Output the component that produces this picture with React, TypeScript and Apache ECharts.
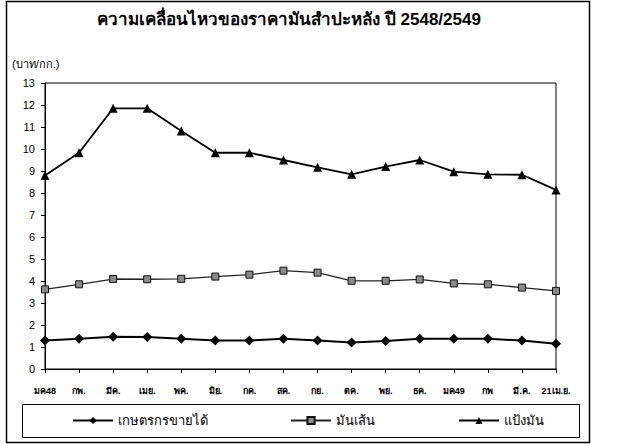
import React, { useEffect, useRef } from "react";
import * as echarts from "echarts";

const categories = ["มค48", "กพ.", "มีค.", "เมย.", "พค.", "มิย.", "กค.", "สค.", "กย.", "ตค.", "พย.", "ธค.", "มค49", "กพ", "มี.ค.", "21เม.ย."];
const farmPrice = [1.29, 1.37, 1.47, 1.45, 1.38, 1.29, 1.29, 1.38, 1.29, 1.2, 1.27, 1.38, 1.38, 1.38, 1.29, 1.15];
const chipsPrice = [3.62, 3.85, 4.09, 4.08, 4.1, 4.2, 4.29, 4.47, 4.38, 4.01, 4.01, 4.07, 3.89, 3.85, 3.7, 3.55];
const starchPrice = [8.8, 9.83, 11.85, 11.85, 10.82, 9.83, 9.83, 9.5, 9.17, 8.85, 9.2, 9.5, 8.97, 8.85, 8.83, 8.14];
const seriesNames = ["เกษตรกรขายได้", "มันเส้น", "แป้งมัน"];
const titleText = "ความเคลื่อนไหวของราคามันสำปะหลัง ปี 2548/2549";
const unitText = "(บาท/กก.)";

export default function App() {
  const ref = useRef<HTMLDivElement>(null);
  useEffect(() => {
    if (!ref.current) return;
    const chart = echarts.init(ref.current, null, { renderer: "svg" });
    const font = "'Liberation Sans', Arial, sans-serif";
    const legendText = { fontSize: 13, color: "#000", fontFamily: font };
    const legendBase = { top: 414, padding: 0, itemWidth: 40, itemHeight: 9, itemGap: 6, textStyle: legendText };
    chart.setOption({
      animation: false,
      backgroundColor: "#fff",
      textStyle: { fontFamily: font },
      title: {
        text: titleText,
        left: 289,
        top: 11,
        padding: 0,
        textAlign: "center",
        textStyle: { fontSize: 17, fontWeight: "bold", color: "#000", fontFamily: font },
      },
      grid: {
        left: 45,
        right: 68,
        top: 83,
        bottom: 75,
        show: true,
        borderColor: "#000",
        borderWidth: 1,
        backgroundColor: "transparent",
      },
      legend: [
        { ...legendBase, data: [seriesNames[0]], left: 72 },
        { ...legendBase, data: [seriesNames[1]], left: 290 },
        { ...legendBase, data: [seriesNames[2]], left: 458 },
      ],
      graphic: [
        { type: "rect", shape: { x: 6.5, y: 1.5, width: 583, height: 441 }, style: { fill: "none", stroke: "#000", lineWidth: 1.5 }, silent: true, z: -1 },
        { type: "rect", shape: { x: 22.5, y: 404.5, width: 557, height: 33 }, style: { fill: "none", stroke: "#000", lineWidth: 1 }, silent: true, z: -1 },
        { type: "text", left: 12, top: 58, style: { text: unitText, fontSize: 11, fill: "#000", fontFamily: font } },
      ],
      xAxis: {
        type: "category",
        data: categories,
        boundaryGap: false,
        axisLine: { lineStyle: { color: "#000", width: 1 } },
        axisTick: { show: true, length: 4, inside: false, lineStyle: { color: "#000" } },
        axisLabel: { color: "#000", fontSize: 9, fontWeight: "bold", margin: 17, interval: 0 },
        splitLine: { show: false },
      },
      yAxis: {
        type: "value",
        min: 0,
        max: 13,
        interval: 1,
        axisLine: { show: true, lineStyle: { color: "#000", width: 1 } },
        axisTick: { show: true, length: 4, inside: false, lineStyle: { color: "#000" } },
        axisLabel: { color: "#000", fontSize: 11, margin: 10 },
        splitLine: { show: false },
      },
      series: [
        {
          name: seriesNames[0],
          type: "line",
          data: farmPrice,
          symbol: "diamond",
          symbolSize: 10,
          itemStyle: { color: "#000" },
          lineStyle: { color: "#000", width: 2 },
        },
        {
          name: seriesNames[1],
          type: "line",
          data: chipsPrice,
          symbol: "rect",
          symbolSize: 7,
          itemStyle: { color: "#8a8a8a", borderColor: "#111", borderWidth: 1 },
          lineStyle: { color: "#222", width: 1.3 },
        },
        {
          name: seriesNames[2],
          type: "line",
          data: starchPrice,
          symbol: "triangle",
          symbolSize: 9,
          itemStyle: { color: "#000" },
          lineStyle: { color: "#000", width: 1.8 },
        },
      ],
    });
    return () => chart.dispose();
  }, []);
  return <div ref={ref} style={{ position: "fixed", left: 0, top: 0, width: 624, height: 444 }} />;
}
